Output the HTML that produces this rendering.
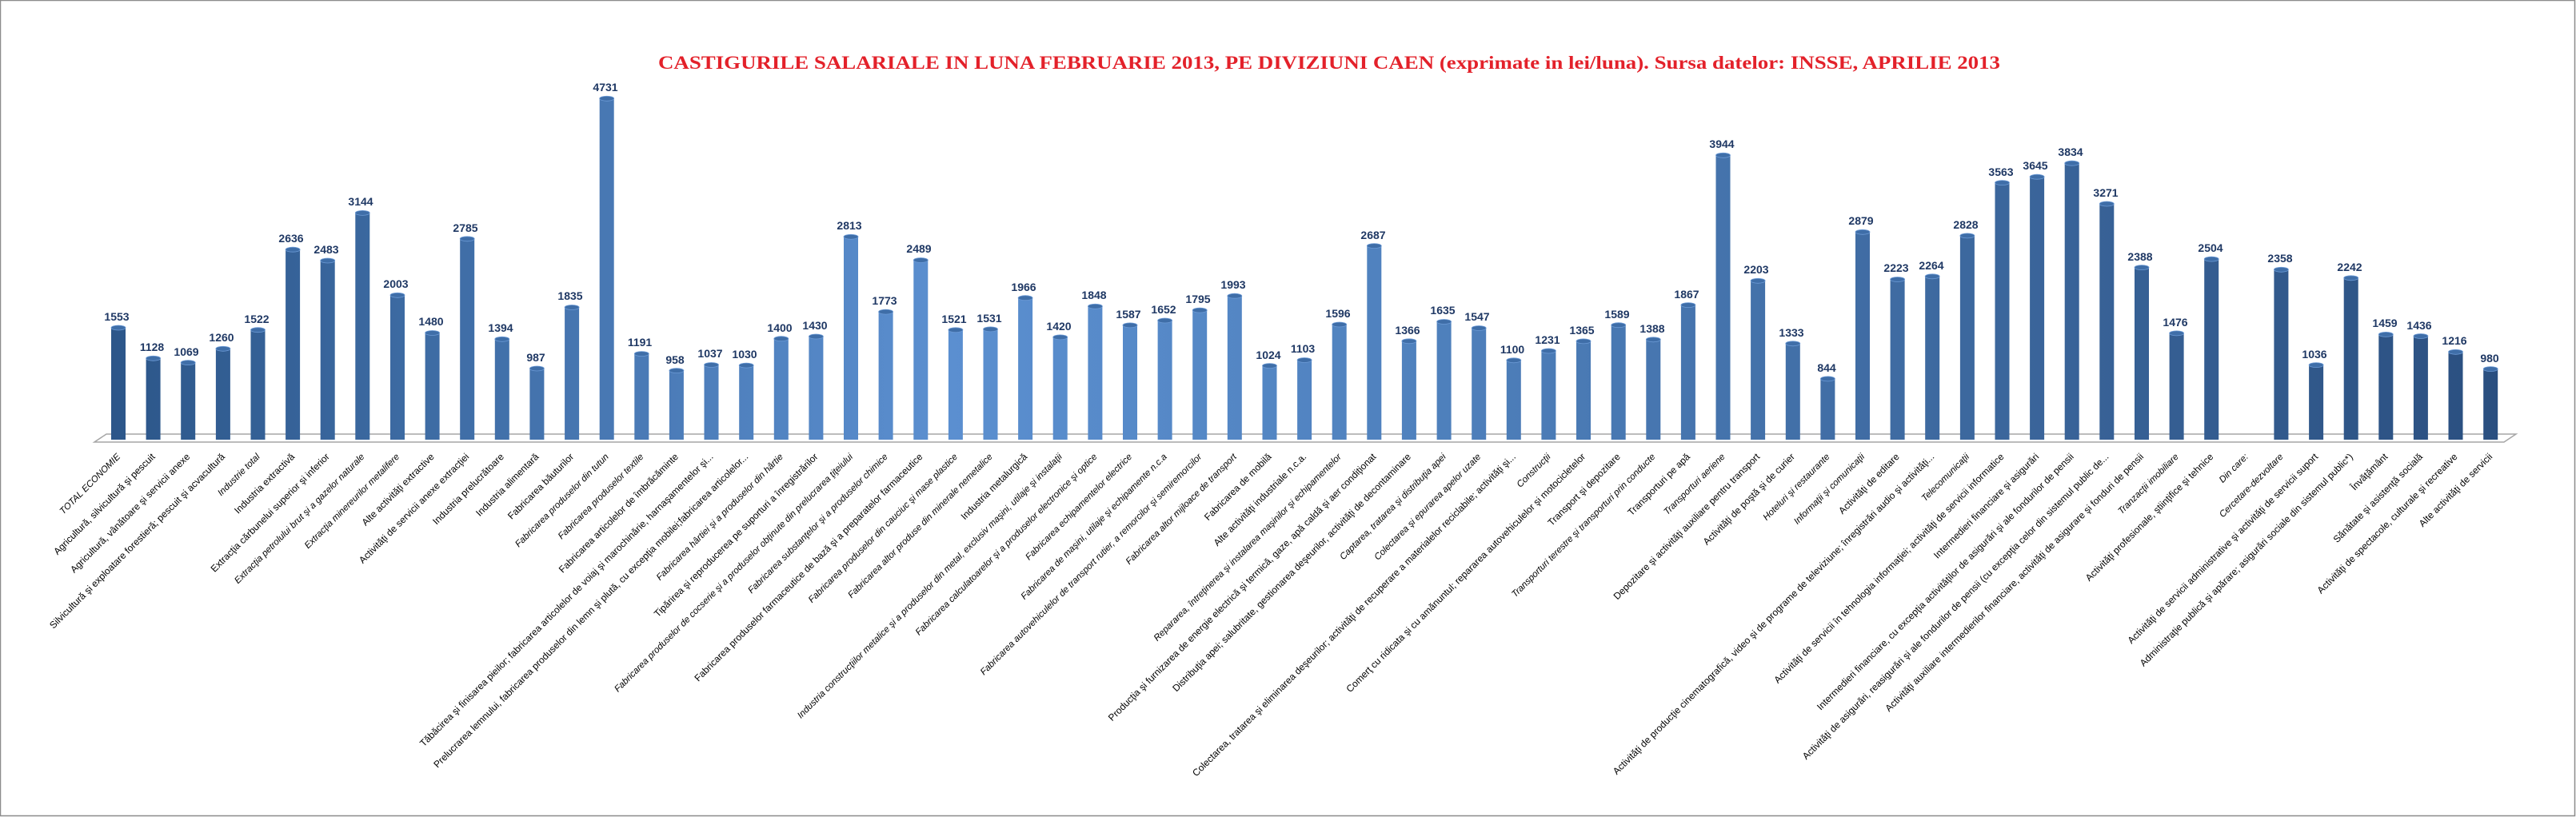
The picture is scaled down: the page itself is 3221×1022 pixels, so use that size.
<!DOCTYPE html>
<html><head><meta charset="utf-8"><style>
html,body{margin:0;padding:0;background:#fff}
svg{display:block}
.v{font:bold 14px "Liberation Sans",sans-serif;fill:#1F3864;text-anchor:middle}
.l{font:12px "Liberation Sans",sans-serif;fill:#000;text-anchor:end}
.s{font:italic 11.5px "Liberation Sans",sans-serif;fill:#000;text-anchor:end}
</style></head><body>
<svg width="3221" height="1022" viewBox="0 0 3221 1022" xmlns="http://www.w3.org/2000/svg">
<defs>
<linearGradient id="g" x1="0" x2="1" y1="0" y2="0">
<stop offset="0" stop-color="#2c5689"/><stop offset="0.35" stop-color="#5b8fd0"/><stop offset="0.55" stop-color="#4f81bd"/><stop offset="1" stop-color="#2a4f80"/>
</linearGradient>
</defs>
<rect x="0.5" y="0.5" width="3219" height="1020" fill="#fff" stroke="#8c8c8c" stroke-width="1.5"/>
<text x="823" y="86" textLength="1678" lengthAdjust="spacingAndGlyphs" style="font:bold 23px 'Liberation Serif',serif;fill:#e3212a">CASTIGURILE SALARIALE IN LUNA FEBRUARIE 2013, PE DIVIZIUNI CAEN (exprimate in lei/luna). Sursa datelor: INSSE, APRILIE 2013</text>
<polygon points="133,543 3146,543 3131,553 118,553" fill="#fff" stroke="#a6a6a6" stroke-width="1.5"/>
<g id="bars" fill="url(#g)">
<path d="M139,410h18v140h-18z M182.6,448.3h18v101.7h-18z M226.2,453.6h18v96.4h-18z M269.9,436.3h18v113.7h-18z M313.5,412.7h18v137.3h-18z M357.1,312.2h18v237.8h-18z M400.7,326h18v224h-18z M444.3,266.4h18v283.6h-18z M488,369.3h18v180.7h-18z M531.6,416.5h18v133.5h-18z M575.2,298.8h18v251.2h-18z M618.8,424.3h18v125.7h-18z M662.4,461h18v89h-18z M706.1,384.5h18v165.5h-18z M749.7,123.3h18v426.7h-18z M793.3,442.6h18v107.4h-18z M836.9,463.6h18v86.4h-18z M880.5,456.5h18v93.5h-18z M924.2,457.1h18v92.9h-18z M967.8,423.7h18v126.3h-18z M1011.4,421h18v129h-18z M1055,296.3h18v253.7h-18z M1098.6,390.1h18v159.9h-18z M1142.3,325.5h18v224.5h-18z M1185.9,412.8h18v137.2h-18z M1229.5,411.9h18v138.1h-18z M1273.1,372.7h18v177.3h-18z M1316.7,421.9h18v128.1h-18z M1360.4,383.3h18v166.7h-18z M1404,406.9h18v143.1h-18z M1447.6,401h18v149h-18z M1491.2,388.1h18v161.9h-18z M1534.8,370.2h18v179.8h-18z M1578.5,457.6h18v92.4h-18z M1622.1,450.5h18v99.5h-18z M1665.7,406h18v144h-18z M1709.3,307.6h18v242.4h-18z M1752.9,426.8h18v123.2h-18z M1796.6,402.5h18v147.5h-18z M1840.2,410.5h18v139.5h-18z M1883.8,450.8h18v99.2h-18z M1927.4,439h18v111h-18z M1971,426.9h18v123.1h-18z M2014.7,406.7h18v143.3h-18z M2058.3,424.8h18v125.2h-18z M2101.9,381.6h18v168.4h-18z M2145.5,194.3h18v355.7h-18z M2189.1,351.3h18v198.7h-18z M2232.8,429.8h18v120.2h-18z M2276.4,473.9h18v76.1h-18z M2320,290.3h18v259.7h-18z M2363.6,349.5h18v200.5h-18z M2407.2,345.8h18v204.2h-18z M2450.9,294.9h18v255.1h-18z M2494.5,228.6h18v321.4h-18z M2538.1,221.2h18v328.8h-18z M2581.7,204.2h18v345.8h-18z M2625.3,255h18v295h-18z M2669,334.6h18v215.4h-18z M2712.6,416.9h18v133.1h-18z M2756.2,324.1h18v225.9h-18z M2843.4,337.3h18v212.7h-18z M2887.1,456.6h18v93.4h-18z M2930.7,347.8h18v202.2h-18z M2974.3,418.4h18v131.6h-18z M3017.9,420.5h18v129.5h-18z M3061.5,440.3h18v109.7h-18z M3105.2,461.6h18v88.4h-18z"/>
</g>
<g fill="#3f6ea8" stroke="#6d9bd6" stroke-width="0.8">
<ellipse cx="148" cy="410" rx="9" ry="3"/><ellipse cx="191.6" cy="448.3" rx="9" ry="3"/><ellipse cx="235.2" cy="453.6" rx="9" ry="3"/><ellipse cx="278.9" cy="436.3" rx="9" ry="3"/><ellipse cx="322.5" cy="412.7" rx="9" ry="3"/><ellipse cx="366.1" cy="312.2" rx="9" ry="3"/><ellipse cx="409.7" cy="326" rx="9" ry="3"/><ellipse cx="453.3" cy="266.4" rx="9" ry="3"/><ellipse cx="497" cy="369.3" rx="9" ry="3"/><ellipse cx="540.6" cy="416.5" rx="9" ry="3"/><ellipse cx="584.2" cy="298.8" rx="9" ry="3"/><ellipse cx="627.8" cy="424.3" rx="9" ry="3"/><ellipse cx="671.4" cy="461" rx="9" ry="3"/><ellipse cx="715.1" cy="384.5" rx="9" ry="3"/><ellipse cx="758.7" cy="123.3" rx="9" ry="3"/><ellipse cx="802.3" cy="442.6" rx="9" ry="3"/><ellipse cx="845.9" cy="463.6" rx="9" ry="3"/><ellipse cx="889.5" cy="456.5" rx="9" ry="3"/><ellipse cx="933.2" cy="457.1" rx="9" ry="3"/><ellipse cx="976.8" cy="423.7" rx="9" ry="3"/><ellipse cx="1020.4" cy="421" rx="9" ry="3"/><ellipse cx="1064" cy="296.3" rx="9" ry="3"/><ellipse cx="1107.6" cy="390.1" rx="9" ry="3"/><ellipse cx="1151.3" cy="325.5" rx="9" ry="3"/><ellipse cx="1194.9" cy="412.8" rx="9" ry="3"/><ellipse cx="1238.5" cy="411.9" rx="9" ry="3"/><ellipse cx="1282.1" cy="372.7" rx="9" ry="3"/><ellipse cx="1325.7" cy="421.9" rx="9" ry="3"/><ellipse cx="1369.4" cy="383.3" rx="9" ry="3"/><ellipse cx="1413" cy="406.9" rx="9" ry="3"/><ellipse cx="1456.6" cy="401" rx="9" ry="3"/><ellipse cx="1500.2" cy="388.1" rx="9" ry="3"/><ellipse cx="1543.8" cy="370.2" rx="9" ry="3"/><ellipse cx="1587.5" cy="457.6" rx="9" ry="3"/><ellipse cx="1631.1" cy="450.5" rx="9" ry="3"/><ellipse cx="1674.7" cy="406" rx="9" ry="3"/><ellipse cx="1718.3" cy="307.6" rx="9" ry="3"/><ellipse cx="1761.9" cy="426.8" rx="9" ry="3"/><ellipse cx="1805.6" cy="402.5" rx="9" ry="3"/><ellipse cx="1849.2" cy="410.5" rx="9" ry="3"/><ellipse cx="1892.8" cy="450.8" rx="9" ry="3"/><ellipse cx="1936.4" cy="439" rx="9" ry="3"/><ellipse cx="1980" cy="426.9" rx="9" ry="3"/><ellipse cx="2023.7" cy="406.7" rx="9" ry="3"/><ellipse cx="2067.3" cy="424.8" rx="9" ry="3"/><ellipse cx="2110.9" cy="381.6" rx="9" ry="3"/><ellipse cx="2154.5" cy="194.3" rx="9" ry="3"/><ellipse cx="2198.1" cy="351.3" rx="9" ry="3"/><ellipse cx="2241.8" cy="429.8" rx="9" ry="3"/><ellipse cx="2285.4" cy="473.9" rx="9" ry="3"/><ellipse cx="2329" cy="290.3" rx="9" ry="3"/><ellipse cx="2372.6" cy="349.5" rx="9" ry="3"/><ellipse cx="2416.2" cy="345.8" rx="9" ry="3"/><ellipse cx="2459.9" cy="294.9" rx="9" ry="3"/><ellipse cx="2503.5" cy="228.6" rx="9" ry="3"/><ellipse cx="2547.1" cy="221.2" rx="9" ry="3"/><ellipse cx="2590.7" cy="204.2" rx="9" ry="3"/><ellipse cx="2634.3" cy="255" rx="9" ry="3"/><ellipse cx="2678" cy="334.6" rx="9" ry="3"/><ellipse cx="2721.6" cy="416.9" rx="9" ry="3"/><ellipse cx="2765.2" cy="324.1" rx="9" ry="3"/><ellipse cx="2852.4" cy="337.3" rx="9" ry="3"/><ellipse cx="2896.1" cy="456.6" rx="9" ry="3"/><ellipse cx="2939.7" cy="347.8" rx="9" ry="3"/><ellipse cx="2983.3" cy="418.4" rx="9" ry="3"/><ellipse cx="3026.9" cy="420.5" rx="9" ry="3"/><ellipse cx="3070.5" cy="440.3" rx="9" ry="3"/><ellipse cx="3114.2" cy="461.6" rx="9" ry="3"/>
</g>
<g class="v">
<text x="146" y="401" class="v">1553</text><text x="190" y="439" class="v">1128</text><text x="233" y="445" class="v">1069</text><text x="277" y="427" class="v">1260</text><text x="321" y="404" class="v">1522</text><text x="364" y="303" class="v">2636</text><text x="408" y="317" class="v">2483</text><text x="451" y="257" class="v">3144</text><text x="495" y="360" class="v">2003</text><text x="539" y="407" class="v">1480</text><text x="582" y="290" class="v">2785</text><text x="626" y="415" class="v">1394</text><text x="670" y="452" class="v">987</text><text x="713" y="375" class="v">1835</text><text x="757" y="114" class="v">4731</text><text x="800" y="433" class="v">1191</text><text x="844" y="455" class="v">958</text><text x="888" y="447" class="v">1037</text><text x="931" y="448" class="v">1030</text><text x="975" y="415" class="v">1400</text><text x="1019" y="412" class="v">1430</text><text x="1062" y="287" class="v">2813</text><text x="1106" y="381" class="v">1773</text><text x="1149" y="316" class="v">2489</text><text x="1193" y="404" class="v">1521</text><text x="1237" y="403" class="v">1531</text><text x="1280" y="364" class="v">1966</text><text x="1324" y="413" class="v">1420</text><text x="1368" y="374" class="v">1848</text><text x="1411" y="398" class="v">1587</text><text x="1455" y="392" class="v">1652</text><text x="1498" y="379" class="v">1795</text><text x="1542" y="361" class="v">1993</text><text x="1586" y="449" class="v">1024</text><text x="1629" y="441" class="v">1103</text><text x="1673" y="397" class="v">1596</text><text x="1717" y="299" class="v">2687</text><text x="1760" y="418" class="v">1366</text><text x="1804" y="393" class="v">1635</text><text x="1847" y="401" class="v">1547</text><text x="1891" y="442" class="v">1100</text><text x="1935" y="430" class="v">1231</text><text x="1978" y="418" class="v">1365</text><text x="2022" y="398" class="v">1589</text><text x="2066" y="416" class="v">1388</text><text x="2109" y="373" class="v">1867</text><text x="2153" y="185" class="v">3944</text><text x="2196" y="342" class="v">2203</text><text x="2240" y="421" class="v">1333</text><text x="2284" y="465" class="v">844</text><text x="2327" y="281" class="v">2879</text><text x="2371" y="340" class="v">2223</text><text x="2415" y="337" class="v">2264</text><text x="2458" y="286" class="v">2828</text><text x="2502" y="220" class="v">3563</text><text x="2545" y="212" class="v">3645</text><text x="2589" y="195" class="v">3834</text><text x="2633" y="246" class="v">3271</text><text x="2676" y="326" class="v">2388</text><text x="2720" y="408" class="v">1476</text><text x="2764" y="315" class="v">2504</text><text x="2851" y="328" class="v">2358</text><text x="2894" y="448" class="v">1036</text><text x="2938" y="339" class="v">2242</text><text x="2982" y="409" class="v">1459</text><text x="3025" y="412" class="v">1436</text><text x="3069" y="431" class="v">1216</text><text x="3113" y="453" class="v">980</text>
</g>
<g>
<text class="s" transform="translate(151,572) rotate(-45)">TOTAL ECONOMIE</text>
<text class="l" transform="translate(194.6,572) rotate(-45)">Agricultură, silvicultură şi pescuit</text>
<text class="l" transform="translate(238.2,572) rotate(-45)">Agricultură, vânătoare şi servicii anexe</text>
<text class="l" transform="translate(281.9,572) rotate(-45)">Silvicultură şi exploatare forestieră; pescuit şi acvacultură</text>
<text class="s" transform="translate(325.5,572) rotate(-45)">Industrie total</text>
<text class="l" transform="translate(369.1,572) rotate(-45)">Industria extractivă</text>
<text class="l" transform="translate(412.7,572) rotate(-45)">Extracţia cărbunelui superior şi inferior</text>
<text class="s" transform="translate(456.3,572) rotate(-45)">Extracţia petrolului brut şi a gazelor naturale</text>
<text class="s" transform="translate(500,572) rotate(-45)">Extracţia minereurilor metalifere</text>
<text class="l" transform="translate(543.6,572) rotate(-45)">Alte activităţi extractive</text>
<text class="l" transform="translate(587.2,572) rotate(-45)">Activităţi de servicii anexe extracţiei</text>
<text class="l" transform="translate(630.8,572) rotate(-45)">Industria prelucrătoare</text>
<text class="l" transform="translate(674.4,572) rotate(-45)">Industria alimentară</text>
<text class="l" transform="translate(718.1,572) rotate(-45)">Fabricarea băuturilor</text>
<text class="s" transform="translate(761.7,572) rotate(-45)">Fabricarea produselor din tutun</text>
<text class="s" transform="translate(805.3,572) rotate(-45)">Fabricarea produselor textile</text>
<text class="l" transform="translate(848.9,572) rotate(-45)">Fabricarea articolelor de îmbrăcăminte</text>
<text class="l" transform="translate(892.5,572) rotate(-45)">Tăbăcirea şi finisarea pieilor; fabricarea articolelor de voiaj şi marochinărie, harnaşamentelor şi...</text>
<text class="l" transform="translate(936.2,572) rotate(-45)">Prelucrarea lemnului, fabricarea produselor din lemn şi plută, cu excepţia mobilei;fabricarea articolelor...</text>
<text class="s" transform="translate(979.8,572) rotate(-45)">Fabricarea hârtiei şi a produselor din hârtie</text>
<text class="l" transform="translate(1023.4,572) rotate(-45)">Tipărirea şi reproducerea pe suporturi a înregistrărilor</text>
<text class="s" transform="translate(1067,572) rotate(-45)">Fabricarea produselor de cocserie şi a produselor obţinute din prelucrarea ţiţeiului</text>
<text class="s" transform="translate(1110.6,572) rotate(-45)">Fabricarea substanţelor şi a produselor chimice</text>
<text class="l" transform="translate(1154.3,572) rotate(-45)">Fabricarea produselor farmaceutice de bază şi a preparatelor farmaceutice</text>
<text class="s" transform="translate(1197.9,572) rotate(-45)">Fabricarea produselor din cauciuc şi mase plastice</text>
<text class="s" transform="translate(1241.5,572) rotate(-45)">Fabricarea altor produse din minerale nemetalice</text>
<text class="l" transform="translate(1285.1,572) rotate(-45)">Industria metalurgică</text>
<text class="s" transform="translate(1328.7,572) rotate(-45)">Industria construcţiilor metalice şi a produselor din metal, exclusiv maşini, utilaje şi instalaţii</text>
<text class="s" transform="translate(1372.4,572) rotate(-45)">Fabricarea calculatoarelor şi a produselor electronice şi optice</text>
<text class="s" transform="translate(1416,572) rotate(-45)">Fabricarea echipamentelor  electrice</text>
<text class="s" transform="translate(1459.6,572) rotate(-45)">Fabricarea de maşini, utilaje şi echipamente n.c.a</text>
<text class="s" transform="translate(1503.2,572) rotate(-45)">Fabricarea autovehiculelor de transport rutier, a remorcilor şi semiremorcilor</text>
<text class="s" transform="translate(1546.8,572) rotate(-45)">Fabricarea altor mijloace de transport</text>
<text class="l" transform="translate(1590.5,572) rotate(-45)">Fabricarea de mobilă</text>
<text class="l" transform="translate(1634.1,572) rotate(-45)">Alte activităţi industriale n.c.a.</text>
<text class="s" transform="translate(1677.7,572) rotate(-45)">Repararea, întreţinerea şi instalarea maşinilor şi echipamentelor</text>
<text class="l" transform="translate(1721.3,572) rotate(-45)">Producţia şi furnizarea de energie electrică şi termică, gaze, apă caldă şi aer condiţionat</text>
<text class="l" transform="translate(1764.9,572) rotate(-45)">Distribuţia apei; salubritate, gestionarea deşeurilor, activităţi de decontaminare</text>
<text class="s" transform="translate(1808.6,572) rotate(-45)">Captarea, tratarea şi distribuţia apei</text>
<text class="s" transform="translate(1852.2,572) rotate(-45)">Colectarea şi epurarea apelor uzate</text>
<text class="l" transform="translate(1895.8,572) rotate(-45)">Colectarea, tratarea şi eliminarea deşeurilor; activităţi de recuperare a materialelor reciclabile; activităţi şi...</text>
<text class="s" transform="translate(1939.4,572) rotate(-45)">Construcţii</text>
<text class="l" transform="translate(1983,572) rotate(-45)">Comerţ cu ridicata şi cu amănuntul; repararea autovehiculelor şi motocicletelor</text>
<text class="l" transform="translate(2026.7,572) rotate(-45)">Transport şi depozitare</text>
<text class="s" transform="translate(2070.3,572) rotate(-45)">Transporturi terestre şi transporturi prin conducte</text>
<text class="l" transform="translate(2113.9,572) rotate(-45)">Transporturi pe apă</text>
<text class="s" transform="translate(2157.5,572) rotate(-45)">Transporturi aeriene</text>
<text class="l" transform="translate(2201.1,572) rotate(-45)">Depozitare şi activităţi auxiliare pentru transport</text>
<text class="l" transform="translate(2244.8,572) rotate(-45)">Activităţi de poştă şi de curier</text>
<text class="s" transform="translate(2288.4,572) rotate(-45)">Hoteluri şi restaurante</text>
<text class="s" transform="translate(2332,572) rotate(-45)">Informaţii şi comunicaţii</text>
<text class="l" transform="translate(2375.6,572) rotate(-45)">Activităţi de editare</text>
<text class="l" transform="translate(2419.2,572) rotate(-45)">Activităţi de producţie cinematografică,  video  şi de programe  de televiziune; înregistrări audio şi activităţi...</text>
<text class="s" transform="translate(2462.9,572) rotate(-45)">Telecomunicaţii</text>
<text class="l" transform="translate(2506.5,572) rotate(-45)">Activităţi de servicii în tehnologia informaţiei; activităţi de servicii informatice</text>
<text class="l" transform="translate(2550.1,572) rotate(-45)">Intermedieri financiare şi asigurări</text>
<text class="l" transform="translate(2593.7,572) rotate(-45)">Intermedieri financiare, cu excepţia activităţilor de asigurări şi ale fondurilor de pensii</text>
<text class="l" transform="translate(2637.3,572) rotate(-45)">Activităţi de asigurări, reasigurări şi ale fondurilor de pensii (cu excepţia celor din sistemul public de...</text>
<text class="l" transform="translate(2681,572) rotate(-45)">Activităţi auxiliare intermedierilor financiare, activităţi de asigurare şi fonduri de pensii</text>
<text class="s" transform="translate(2724.6,572) rotate(-45)">Tranzacţii imobiliare</text>
<text class="l" transform="translate(2768.2,572) rotate(-45)">Activităţi profesionale, ştiinţifice şi tehnice</text>
<text class="s" transform="translate(2811.8,572) rotate(-45)">Din care:</text>
<text class="s" transform="translate(2855.4,572) rotate(-45)">Cercetare-dezvoltare</text>
<text class="l" transform="translate(2899.1,572) rotate(-45)">Activităţi de servicii administrative şi activităţi de servicii suport</text>
<text class="l" transform="translate(2942.7,572) rotate(-45)">Administraţie publică şi apărare; asigurări sociale din sistemul public*)</text>
<text class="l" transform="translate(2986.3,572) rotate(-45)">Învăţământ</text>
<text class="l" transform="translate(3029.9,572) rotate(-45)">Sănătate şi asistenţă socială</text>
<text class="l" transform="translate(3073.5,572) rotate(-45)">Activităţi de spectacole, culturale şi recreative</text>
<text class="l" transform="translate(3117.2,572) rotate(-45)">Alte activităţi de servicii</text>
</g>
</svg>
</body></html>
